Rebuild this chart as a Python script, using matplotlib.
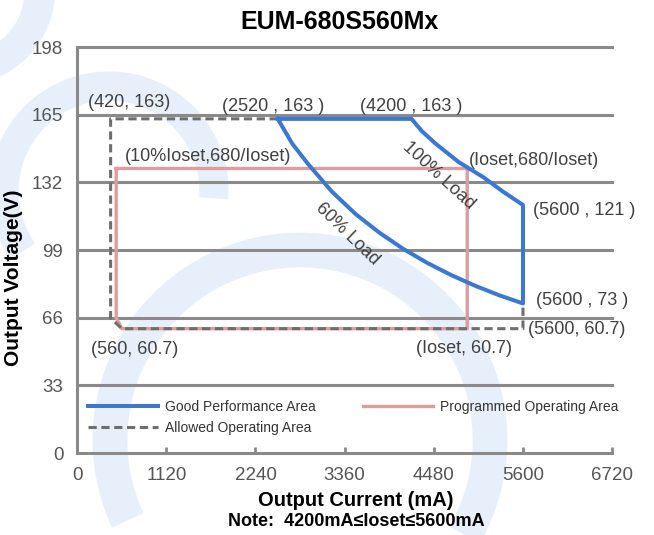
import matplotlib.pyplot as plt
import numpy as np
from matplotlib.patches import Arc

# ---- data ----
x_ticks = [0, 1120, 2240, 3360, 4480, 5600, 6720]
y_ticks = [0, 33, 66, 99, 132, 165, 198]

# good performance area: top edge, 100% load curve, right edge, 60% load curve
good_I = [2520, 4200, 4330, 4500, 4790, 5100, 5350, 5600,
          5600, 5300, 5000, 4700, 4400, 4100, 3800, 3500, 3200, 2900, 2700, 2520]
good_V = [163, 163, 157, 151, 142, 134.6, 127.5, 121,
          73, 77, 81.6, 86.8, 92.7, 99.5, 107.4, 116.5, 127.5, 141, 151, 163]

# programmed operating area (Ioset = 4900 mA in the drawing)
prog_I = [490, 4900, 4900, 560, 490, 490]
prog_V = [138.8, 138.8, 60.7, 60.7, 66, 138.8]

# allowed operating area
allow_I = [2520, 420, 420, 560, 5600, 5600]
allow_V = [163, 163, 66, 60.7, 60.7, 73]

blue = '#3a78d4'
pink = '#df9c9c'
dash_gray = '#6e6e6e'
grid_gray = '#8a8a8a'
txt_gray = '#404040'
wm_blue = '#e7f0fa'

plt.rcParams['font.family'] = ['Liberation Sans', 'DejaVu Sans']

fig = plt.figure(figsize=(6.54, 5.35), dpi=100)

# faint watermark rings behind the chart (pixel coordinates, y up)
wm = fig.add_axes([0, 0, 1, 1], zorder=-5)
wm.set_xlim(0, 654)
wm.set_ylim(0, 535)
wm.axis('off')
wm.add_patch(Arc((-40, 545), 160, 160, theta1=260, theta2=360, lw=22, color=wm_blue))
wm.add_patch(Arc((109, 344), 210, 210, theta1=-4, theta2=215, lw=21, color=wm_blue))
wm.add_patch(Arc((300, 95), 380, 380, theta1=-30, theta2=205, lw=25, color=wm_blue))

ax = fig.add_axes([0.118, 0.153, 0.818, 0.759])
ax.patch.set_alpha(0)

ax.plot(good_I, good_V, color=blue, lw=2.9, solid_joinstyle='round', zorder=4,
        label='Good Performance Area')
ax.plot(allow_I, allow_V, color=dash_gray, lw=2.2, ls=(0, (2.7, 1.5)), zorder=3,
        label='Allowed Operating Area')
ax.plot(prog_I, prog_V, color=pink, lw=2.4, zorder=2,
        label='Programmed Operating Area')

ax.set_xlim(0, 6720)
ax.set_ylim(0, 198)
ax.set_xticks(x_ticks)
ax.set_yticks(y_ticks)
ax.tick_params(axis='both', direction='in', length=4, width=2, color=grid_gray,
               labelsize=13.5, labelcolor='#555555', pad=10)
for y in y_ticks[1:]:
    ax.axhline(y, color=grid_gray, lw=2.2, zorder=1, clip_on=False)
for s in ['top', 'right']:
    ax.spines[s].set_visible(False)
for s in ['left', 'bottom']:
    ax.spines[s].set_color(grid_gray)
    ax.spines[s].set_linewidth(2.2)

ax.set_title('EUM-680S560Mx', fontsize=18, fontweight='bold', pad=13, x=0.49)
ax.set_xlabel('Output Current (mA)', fontsize=14.5, fontweight='bold', va='top')
ax.xaxis.set_label_coords(0.52, -0.094)
ax.set_ylabel('Output Voltage(V)', fontsize=15, fontweight='bold')
ax.yaxis.set_label_coords(-0.101, 0.431)
fig.text(0.545, 0.026, 'Note:  4200mA\u2264Ioset\u22645600mA', ha='center', va='center',
         fontsize=13, fontweight='bold')

# point annotations
tk = dict(fontsize=13, color=txt_gray, va='center')
ax.text(653, 171.2, '(420, 163)', ha='center', **tk)
ax.text(2462, 169.2, '(2520 , 163 )', ha='center', **tk)
ax.text(4195, 169.2, '(4200 , 163 )', ha='center', **tk)
ax.text(1646, 144.8, '(10%Ioset,680/Ioset)', ha='center', **tk)
ax.text(4924, 142.9, '(Ioset,680/Ioset)', ha='left', **tk)
ax.text(5728, 118.5, '(5600 , 121 )', ha='left', **tk)
ax.text(5766, 74.6, '(5600 , 73 )', ha='left', **tk)
ax.text(5665, 60.5, '(5600, 60.7)', ha='left', **tk)
ax.text(4861, 51.2, '(Ioset, 60.7)', ha='center', **tk)
ax.text(716, 50.7, '(560, 60.7)', ha='center', **tk)
ax.text(4547, 135.6, '100% Load', ha='center', rotation=-42.5, **tk)
ax.text(3392, 106.8, '60% Load', ha='center', rotation=-44, **tk)

leg = ax.legend(loc='upper left', bbox_to_anchor=(0.0206, 0.132), ncol=2, frameon=False,
                borderpad=0, borderaxespad=0,
                handlelength=5.0, handletextpad=0.5, columnspacing=3.45,
                labelspacing=0.55, fontsize=10)
for t in leg.get_texts():
    t.set_color('#333333')

fig.savefig('out.png', dpi=100)
